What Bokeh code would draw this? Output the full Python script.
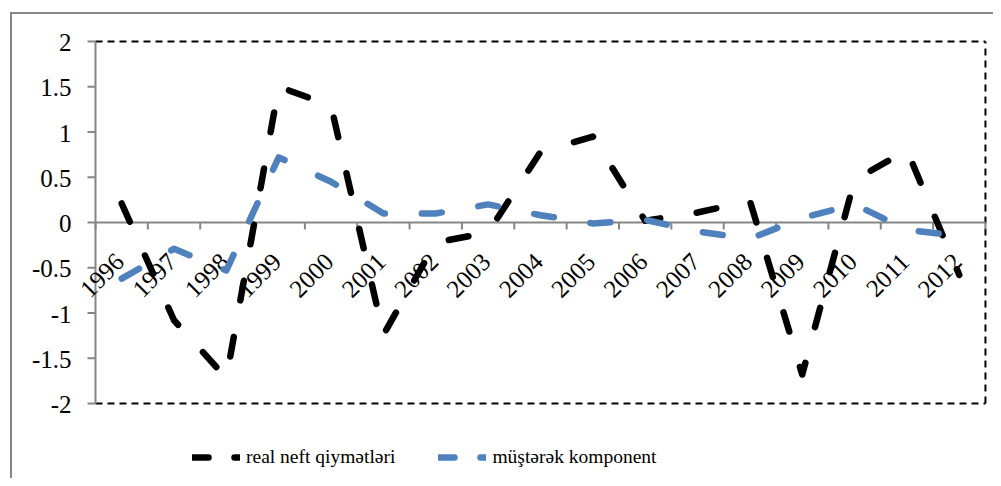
import math
from bokeh.plotting import figure
from bokeh.models import Range1d, Legend, LegendItem
from bokeh.core.properties import value
from bokeh.embed import file_html
from bokeh.resources import INLINE

# ---- data ----
years = ["1996", "1997", "1998", "1999", "2000", "2001", "2002", "2003", "2004",
         "2005", "2006", "2007", "2008", "2009", "2010", "2011", "2012"]
real_neft = [0.21, -1.08, -1.72, 1.50, 1.29, -1.24, -0.22, -0.11, 0.78,
             0.95, 0.02, 0.11, 0.24, -1.68, 0.47, 0.80, -0.58]
musterek = [-0.62, -0.29, -0.53, 0.72, 0.45, 0.10, 0.10, 0.20, 0.08,
            -0.01, 0.03, -0.10, -0.18, 0.05, 0.20, -0.08, -0.15]
y_ticks = [-2, -1.5, -1, -0.5, 0, 0.5, 1, 1.5, 2]
y_tick_labels = ["-2", "-1.5", "-1", "-0.5", "0", "0.5", "1", "1.5", "2"]
series_names = ["real neft qiymətləri", "müştərək komponent"]

BLACK = "#000000"
BLUE = "#4F81BD"
GREY = "#868686"
FONT = "Liberation Serif"

n = len(years)
xs = [i + 0.5 for i in range(n)]
bounds_x = list(range(n + 1))
y_min, y_max = y_ticks[0], y_ticks[-1]

# layout (pixels): the plot frame covers the whole canvas
W, H = 993, 478
axis_left, axis_top = 95, 41          # pixel position of x=0 and y=y_max
px_x = 52.35                          # px per category
px_y = 90.5                           # px per y unit
x_start = -axis_left / px_x
x_end = x_start + W / px_x
y_end = y_max + axis_top / px_y
y_start = y_end - H / px_y

p = figure(width=W, height=H, output_backend="svg", toolbar_location=None,
           x_range=Range1d(x_start, x_end), y_range=Range1d(y_start, y_end),
           x_axis_location=None, y_axis_location=None,
           min_border=0, min_border_left=0, min_border_right=0,
           min_border_top=0, min_border_bottom=0)
p.background_fill_color = None
p.border_fill_color = None
p.styles = {
    "background-color": "white",
    "background-image": "linear-gradient(#868686, #868686), linear-gradient(#868686, #868686)",
    "background-size": "2px 100%, 100% 2px",
    "background-position": "10px 12px, 10px 12px",
    "background-repeat": "no-repeat",
}
p.xgrid.visible = False
p.ygrid.visible = False
p.outline_line_color = None

# dashed plot-area border (top, right, bottom)
p.segment(x0=[0, n, 0], y0=[y_max, y_min, y_min], x1=[n, n, n], y1=[y_max, y_max, y_min],
          line_color=BLACK, line_width=2, line_dash="7 5")

# vertical axis
p.segment(x0=[0], y0=[y_min], x1=[0], y1=[y_max], line_color=GREY, line_width=2)
p.ray(x=[0] * len(y_ticks), y=y_ticks, length=8, length_units="screen",
      angle=math.pi, line_color=GREY, line_width=2)
p.text(x=[0] * len(y_ticks), y=y_ticks, text=y_tick_labels, text_align="right",
       text_baseline="middle", x_offset=-24, y_offset=1,
       text_font=value(FONT), text_font_size="25px", text_color=BLACK)

# horizontal axis at y = 0 with ticks between categories and rotated labels
p.segment(x0=[0], y0=[0], x1=[n], y1=[0], line_color=GREY, line_width=2)
p.ray(x=bounds_x, y=[0] * len(bounds_x), length=7, length_units="screen",
      angle=-math.pi / 2, line_color=GREY, line_width=2)
p.text(x=xs, y=[0] * n, text=years, angle=math.pi / 4, text_align="right",
       text_baseline="middle", x_offset=-2, y_offset=35,
       text_font=value(FONT), text_font_size="25px", text_color=BLACK)

# series
p.line(xs, real_neft, line_color=BLACK, line_width=6.5, line_dash="20 37",
       line_cap="round", line_join="round")
p.line(xs, musterek, line_color=BLUE, line_width=6.5, line_dash="20 37",
       line_cap="round", line_join="round")

# legend samples (hidden copies of the series with the legend's dash scale)
d1 = p.line(xs, real_neft, line_color=BLACK, line_width=6.5, line_dash="16 26",
            line_cap="round", visible=False)
d2 = p.line(xs, musterek, line_color=BLUE, line_width=6.5, line_dash="16 26",
            line_cap="round", visible=False)
legend = Legend(items=[LegendItem(label=series_names[0], renderers=[d1]),
                       LegendItem(label=series_names[1], renderers=[d2])],
                orientation="horizontal", location=(192, 10),
                glyph_width=48, glyph_height=20, label_standoff=6, spacing=43,
                padding=0, margin=0, border_line_color=None,
                background_fill_alpha=0, inactive_fill_alpha=0,
                click_policy="none",
                label_text_font=FONT, label_text_font_size="19.5px",
                label_text_color=BLACK)
p.add_layout(legend)

open("out.html", "w").write(file_html(p, INLINE))
